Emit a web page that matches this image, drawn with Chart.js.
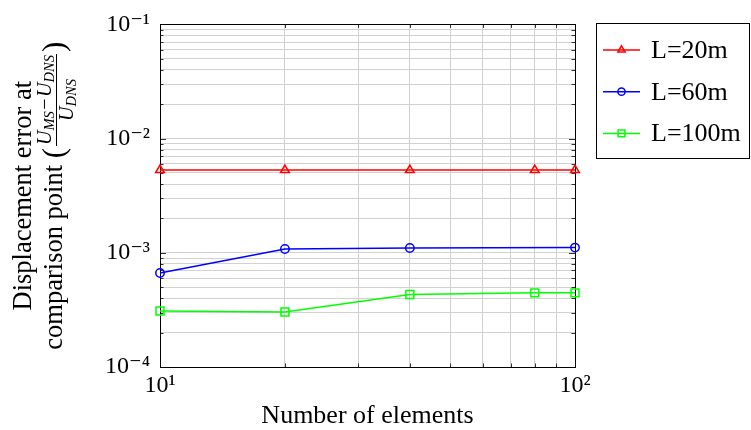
<!DOCTYPE html>
<html><head><meta charset="utf-8">
<script src="https://cdn.jsdelivr.net/npm/chart.js@4/dist/chart.umd.min.js"></script>
<style>html,body{margin:0;padding:0;background:#fff}canvas{display:block}</style>
</head><body>
<canvas id="c" width="751" height="430"></canvas>
<script>
// ---- data ----
const elements = [10, 20, 40, 80, 100];
const errL20 = [5.3e-3, 5.3e-3, 5.3e-3, 5.3e-3, 5.3e-3];
const errL60 = [6.65e-4, 1.08e-3, 1.10e-3, null, 1.11e-3];
const errL100 = [3.09e-4, 3.03e-4, 4.31e-4, 4.46e-4, 4.46e-4];
const seriesNames = ['L=20m', 'L=60m', 'L=100m'];
const xTickValues = [10, 100];
const xTickLabels = ['10¹', '10²'];
const yTickValues = [1e-4, 1e-3, 1e-2, 1e-1];
const yTickLabels = ['10⁻⁴', '10⁻³', '10⁻²', '10⁻¹'];
const xTitle = 'Number of elements';
const yTitleLine1 = 'Displacement error at';
const yTitleLine2 = 'comparison point';

// ---- styling ----
const FAM = "'Liberation Serif','DejaVu Serif',serif";
const colors = ['#ff0000', '#0000ff', '#00ff00'];
const styles = ['triangle', 'circle', 'rect'];
const radii = [5, 4.2, 5.6];
const legendRadii = [4.2, 3.6, 4.8];

function withMinors(majors) {
  const out = [];
  for (let i = 0; i < majors.length - 1; i++) {
    for (let k = 1; k <= 9; k++) out.push(majors[i] * k);
  }
  out.push(majors[majors.length - 1]);
  return out;
}
function labelFor(v, vals, labels) {
  const i = vals.findIndex(t => Math.abs(t - v) / t < 1e-9);
  return i >= 0 ? labels[i] : '';
}
function isMajor(v, vals) { return vals.some(t => Math.abs(t - v) / t < 1e-9); }
function pts(ys) {
  return elements.map((x, i) => ({ x: x, y: ys[i] })).filter(p => p.y !== null);
}

const seriesData = [errL20, errL60, errL100];
const datasets = seriesData.map((ys, i) => ({
  label: seriesNames[i],
  data: pts(ys),
  borderColor: colors[i],
  backgroundColor: 'rgba(0,0,0,0)',
  borderWidth: 1.5,
  pointStyle: styles[i],
  pointRadius: radii[i],
  pointBorderWidth: 1.5,
  pointBorderColor: colors[i],
  pointBackgroundColor: 'rgba(0,0,0,0)',
  tension: 0,
  clip: false
}));

function drawSeq(ctx, parts, u, v) {
  for (const p of parts) {
    ctx.font = p.f;
    u += (p.pl || 0);
    ctx.fillText(p.t, u, v + (p.dv || 0));
    u += ctx.measureText(p.t).width + (p.pr || 0);
  }
  return u;
}
function seqWidth(ctx, parts) {
  let w = 0;
  for (const p of parts) { ctx.font = p.f; w += ctx.measureText(p.t).width + (p.pl || 0) + (p.pr || 0); }
  return w;
}

const deco = {
  id: 'deco',
  beforeDatasetsDraw(chart) {
    const ctx = chart.ctx, a = chart.chartArea;
    const xs = chart.scales.x, ys = chart.scales.y;
    ctx.save();
    ctx.strokeStyle = '#333';
    ctx.lineWidth = 1;
    ctx.beginPath();
    for (const t of xs.ticks) {
      const px = Math.round(xs.getPixelForValue(t.value)) + 0.5;
      const len = isMajor(t.value, xTickValues) ? 6 : 3.5;
      ctx.moveTo(px, a.bottom); ctx.lineTo(px, a.bottom - len);
      ctx.moveTo(px, a.top); ctx.lineTo(px, a.top + len);
    }
    for (const t of ys.ticks) {
      const py = Math.round(ys.getPixelForValue(t.value)) + 0.5;
      const len = isMajor(t.value, yTickValues) ? 6 : 3.5;
      ctx.moveTo(a.left, py); ctx.lineTo(a.left + len, py);
      ctx.moveTo(a.right, py); ctx.lineTo(a.right - len, py);
    }
    ctx.stroke();
    ctx.strokeStyle = '#000';
    ctx.strokeRect(Math.round(a.left) + 0.5, Math.round(a.top) + 0.5,
      Math.round(a.right) - Math.round(a.left), Math.round(a.bottom) - Math.round(a.top));
    ctx.restore();
  },
  afterDraw(chart) {
    const ctx = chart.ctx;
    // legend
    ctx.save();
    ctx.strokeStyle = '#000'; ctx.lineWidth = 1;
    ctx.strokeRect(596.5, 23.5, 153, 135);
    chart.data.datasets.forEach((ds, i) => {
      const y = 50 + i * 41.7;
      ctx.strokeStyle = ds.borderColor; ctx.lineWidth = 1.5;
      ctx.beginPath(); ctx.moveTo(603, y); ctx.lineTo(640, y); ctx.stroke();
      ctx.fillStyle = 'rgba(0,0,0,0)';
      Chart.helpers.drawPoint(ctx, { pointStyle: ds.pointStyle, radius: legendRadii[i], rotation: 0, borderWidth: 1.5 }, 621.5, y);
      ctx.fillStyle = '#000';
      ctx.font = '26px ' + FAM;
      ctx.textAlign = 'left'; ctx.textBaseline = 'alphabetic';
      ctx.fillText(ds.label, 651, y + 8);
    });
    ctx.restore();

    // y title
    const cy = (chart.chartArea.top + chart.chartArea.bottom) / 2;
    ctx.save();
    ctx.fillStyle = '#000';
    ctx.textBaseline = 'alphabetic';
    ctx.translate(31, cy); ctx.rotate(-Math.PI / 2);
    ctx.font = '26.5px ' + FAM; ctx.textAlign = 'center';
    ctx.fillText(yTitleLine1, 0, 0);
    ctx.restore();

    ctx.save();
    ctx.fillStyle = '#000';
    ctx.textBaseline = 'alphabetic'; ctx.textAlign = 'left';
    ctx.translate(62, cy); ctx.rotate(-Math.PI / 2);
    const fR = '26.5px ' + FAM, fP = '31px ' + FAM;
    const fI = 'italic 20px ' + FAM, fS = 'italic 14.5px ' + FAM, fM = '20px ' + FAM;
    const num = [
      { t: 'U', f: fI }, { t: 'MS', f: fS, dv: 3 }, { t: '−', f: fM, pl: 1.5, pr: 1.5 },
      { t: 'U', f: fI }, { t: 'DNS', f: fS, dv: 3 }
    ];
    const den = [{ t: 'U', f: fI }, { t: 'DNS', f: fS, dv: 3 }];
    const head = [{ t: yTitleLine2 + ' ', f: fR }];
    const lp = [{ t: '(', f: fP, pr: 2 }], rp = [{ t: ')', f: fP, pl: 2 }];
    const wHead = seqWidth(ctx, head), wl = seqWidth(ctx, lp), wr = seqWidth(ctx, rp);
    const wn = seqWidth(ctx, num), wd = seqWidth(ctx, den);
    const wf = Math.max(wn, wd) + 2;
    const total = wHead + wl + wf + wr;
    let u = -total / 2;
    u = drawSeq(ctx, head, u, 0);
    u = drawSeq(ctx, lp, u, 2);
    drawSeq(ctx, num, u + (wf - wn) / 2, -11.5);
    drawSeq(ctx, den, u + (wf - wd) / 2, 11);
    ctx.fillRect(u, -6, wf, 1);
    u += wf;
    drawSeq(ctx, rp, u, 2);
    ctx.restore();
  }
};

new Chart(document.getElementById('c'), {
  type: 'line',
  data: { datasets: datasets },
  options: {
    responsive: false,
    animation: false,
    events: [],
    devicePixelRatio: 1,
    layout: { padding: { left: 0, right: 176, top: 22, bottom: 0 } },
    plugins: { legend: { display: false }, tooltip: { enabled: false } },
    scales: {
      x: {
        type: 'logarithmic', min: 10, max: 100,
        afterBuildTicks: s => { s.ticks = withMinors(xTickValues).map(v => ({ value: v })); },
        afterFit: s => { s.height = 63; },
        grid: { color: '#d2d2d2', lineWidth: 1, drawTicks: false },
        border: { display: false },
        ticks: {
          autoSkip: false, maxRotation: 0, padding: 4, color: '#000',
          font: { family: FAM, size: 24 },
          callback: v => labelFor(v, xTickValues, xTickLabels)
        },
        title: { display: true, text: xTitle, color: '#000', font: { family: FAM, size: 26 }, padding: { top: 0, bottom: -2 } }
      },
      y: {
        type: 'logarithmic', min: 1e-4, max: 1e-1,
        afterBuildTicks: s => { s.ticks = withMinors(yTickValues).map(v => ({ value: v })); },
        afterFit: s => { s.width = 160; },
        grid: { color: '#d2d2d2', lineWidth: 1, drawTicks: false },
        border: { display: false },
        ticks: {
          autoSkip: false, padding: 10, color: '#000',
          font: { family: FAM, size: 24 },
          callback: v => labelFor(v, yTickValues, yTickLabels)
        }
      }
    }
  },
  plugins: [deco]
});
</script>
</body></html>
